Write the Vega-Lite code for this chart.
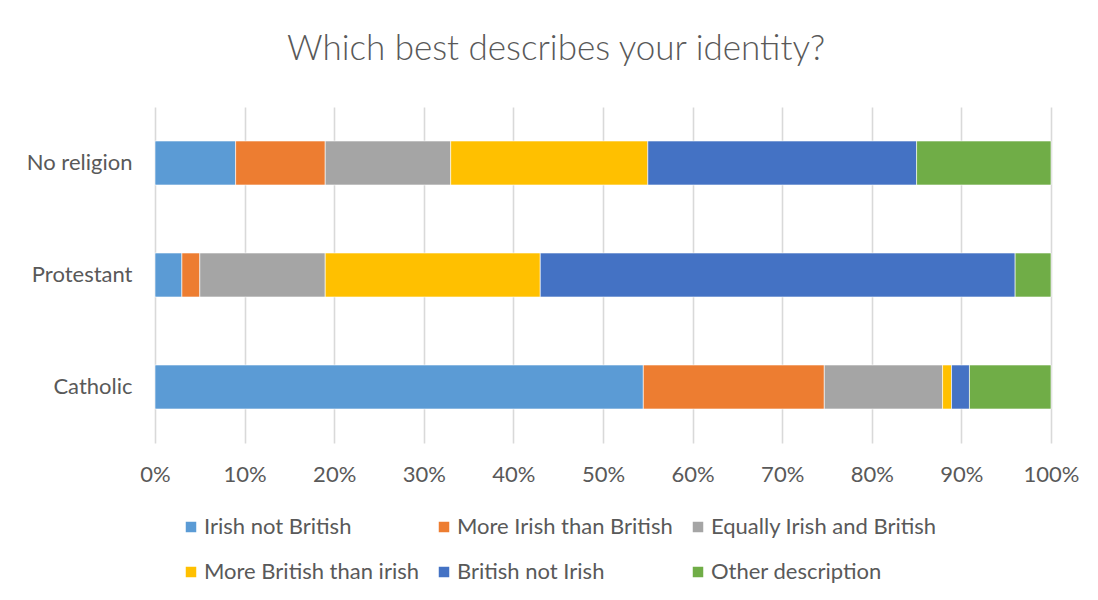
{
  "$schema": "https://vega.github.io/schema/vega-lite/v6.json",
  "width": 896,
  "height": 336,
  "autosize": {"type": "none"},
  "padding": {"left": 155, "top": 107, "right": 47, "bottom": 157},
  "background": "#ffffff",
  "title": {
    "text": "Which best describes your identity?",
    "font": "Lato",
    "fontSize": 35,
    "fontWeight": 300,
    "color": "#595959",
    "anchor": "middle",
    "dx": -47,
    "offset": 40
  },
  "data": {
    "values": [
      {"religion": "No religion", "identity": "Irish not British", "k": 1, "pct": 9},
      {"religion": "No religion", "identity": "More Irish than British", "k": 2, "pct": 10},
      {"religion": "No religion", "identity": "Equally Irish and British", "k": 3, "pct": 14},
      {"religion": "No religion", "identity": "More British than irish", "k": 4, "pct": 22},
      {"religion": "No religion", "identity": "British not Irish", "k": 5, "pct": 30},
      {"religion": "No religion", "identity": "Other description", "k": 6, "pct": 15},
      {"religion": "Protestant", "identity": "Irish not British", "k": 1, "pct": 3},
      {"religion": "Protestant", "identity": "More Irish than British", "k": 2, "pct": 2},
      {"religion": "Protestant", "identity": "Equally Irish and British", "k": 3, "pct": 14},
      {"religion": "Protestant", "identity": "More British than irish", "k": 4, "pct": 24},
      {"religion": "Protestant", "identity": "British not Irish", "k": 5, "pct": 53},
      {"religion": "Protestant", "identity": "Other description", "k": 6, "pct": 4},
      {"religion": "Catholic", "identity": "Irish not British", "k": 1, "pct": 54.5},
      {"religion": "Catholic", "identity": "More Irish than British", "k": 2, "pct": 20.2},
      {"religion": "Catholic", "identity": "Equally Irish and British", "k": 3, "pct": 13.2},
      {"religion": "Catholic", "identity": "More British than irish", "k": 4, "pct": 1.0},
      {"religion": "Catholic", "identity": "British not Irish", "k": 5, "pct": 2.0},
      {"religion": "Catholic", "identity": "Other description", "k": 6, "pct": 9.1}
    ]
  },
  "mark": {"type": "bar", "stroke": "#ffffff", "strokeWidth": 0.6},
  "encoding": {
    "y": {
      "field": "religion",
      "type": "nominal",
      "sort": ["No religion", "Protestant", "Catholic"],
      "scale": {"paddingInner": 0.607, "paddingOuter": 0.3035},
      "axis": {
        "title": null,
        "domain": false,
        "ticks": false,
        "labelFont": "Lato",
        "labelFontSize": 22,
        "labelColor": "#595959",
        "labelPadding": 23
      }
    },
    "x": {
      "field": "pct",
      "type": "quantitative",
      "stack": "normalize",
      "scale": {"domain": [0, 1], "nice": false},
      "axis": {
        "title": null,
        "format": ".0%",
        "values": [0, 0.1, 0.2, 0.3, 0.4, 0.5, 0.6, 0.7, 0.8, 0.9, 1],
        "domain": false,
        "ticks": false,
        "grid": true,
        "gridColor": "#d9d9d9",
        "gridWidth": 1.6,
        "labelFlush": false,
        "labelOverlap": false,
        "labelFont": "Lato",
        "labelFontSize": 22,
        "labelColor": "#595959",
        "labelPadding": 21
      }
    },
    "color": {
      "field": "identity",
      "type": "nominal",
      "sort": ["Irish not British", "More Irish than British", "Equally Irish and British", "More British than irish", "British not Irish", "Other description"],
      "scale": {
        "domain": ["Irish not British", "More Irish than British", "Equally Irish and British", "More British than irish", "British not Irish", "Other description"],
        "range": ["#5B9BD5", "#ED7D31", "#A5A5A5", "#FFC000", "#4472C4", "#70AD47"]
      },
      "legend": {
        "title": null,
        "orient": "none",
        "legendX": 25,
        "legendY": 409,
        "direction": "horizontal",
        "columns": 3,
        "columnPadding": 14,
        "rowPadding": 23,
        "symbolType": "square",
        "symbolSize": 110,
        "symbolStrokeWidth": 0,
        "labelFont": "Lato",
        "labelFontSize": 22,
        "labelColor": "#595959",
        "labelOffset": 2,
        "labelLimit": 400,
        "padding": 0
      }
    },
    "order": {"field": "k", "type": "quantitative"}
  },
  "config": {"view": {"stroke": null}}
}
